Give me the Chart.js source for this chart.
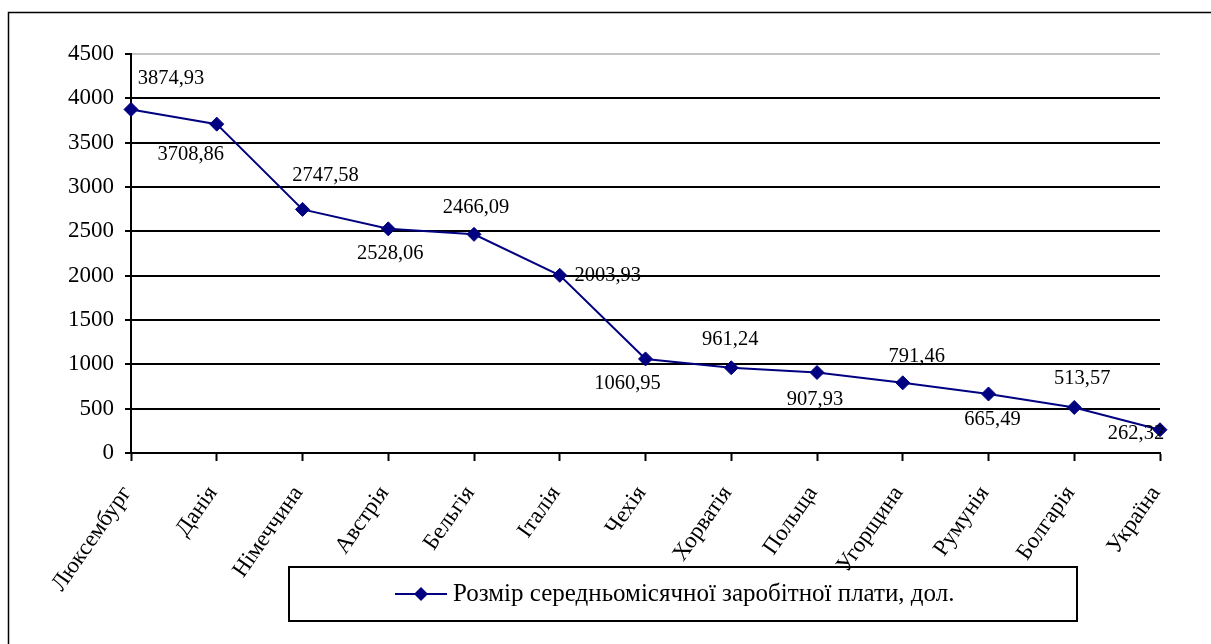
<!DOCTYPE html>
<html>
<head>
<meta charset="utf-8">
<script src="https://cdn.jsdelivr.net/npm/chart.js@4.4.1/dist/chart.umd.min.js"></script>
<style>
  html, body { margin: 0; padding: 0; background: #fff; }
  #wrap { position: relative; width: 1211px; height: 644px; }
</style>
</head>
<body>
<div id="wrap"><canvas id="c" width="1211" height="644"></canvas></div>
<script>
// Average monthly wage by country, USD
const countries = ['Люксембург', 'Данія', 'Німеччина', 'Австрія', 'Бельгія', 'Італія', 'Чехія',
                   'Хорватія', 'Польща', 'Угорщина', 'Румунія', 'Болгарія', 'Україна'];
const wages = [3874.93, 3708.86, 2747.58, 2528.06, 2466.09, 2003.93, 1060.95,
               961.24, 907.93, 791.46, 665.49, 513.57, 262.32];
const yMin = 0;
const yMax = 4500;
const yStep = 500;
const seriesName = 'Розмір середньомісячної заробітної плати, дол.';

const SERIF = '"Liberation Serif", "Times New Roman", Times, serif';
const NAVY = '#000080';

// where each value label sits relative to its point (dx, dy in px)
const labelShift = [[40, -31], [-26, 30], [23, -34], [2, 25], [2, -27], [48, 0], [-18, 25],
                    [-1, -28], [-2, 27], [14, -26], [4, 26], [8, -29], [-24, 4]];

const fmt = v => v.toFixed(2).replace('.', ',');

// thin frame along the top and left edges
const framePlugin = {
  id: 'frame',
  beforeDraw(chart) {
    const ctx = chart.ctx;
    ctx.save();
    ctx.fillStyle = '#fff';
    ctx.fillRect(0, 0, chart.width, chart.height);
    ctx.strokeStyle = '#000';
    ctx.lineWidth = 1.5;
    ctx.beginPath();
    ctx.moveTo(8.5, chart.height);
    ctx.lineTo(8.5, 12.5);
    ctx.lineTo(chart.width, 12.5);
    ctx.stroke();
    ctx.restore();
  }
};

// value labels next to each point
const valueLabels = {
  id: 'valueLabels',
  afterDatasetsDraw(chart) {
    const ctx = chart.ctx;
    const meta = chart.getDatasetMeta(0);
    const values = chart.data.datasets[0].data;
    ctx.save();
    ctx.font = '20.5px ' + SERIF;
    ctx.fillStyle = '#000';
    ctx.textAlign = 'center';
    ctx.textBaseline = 'middle';
    meta.data.forEach((pt, i) => {
      const [dx, dy] = labelShift[i];
      ctx.fillText(fmt(values[i]), pt.x + dx, pt.y + dy);
    });
    ctx.restore();
  }
};

// boxed legend under the axis labels
const boxedLegend = {
  id: 'boxedLegend',
  afterDraw(chart) {
    const ctx = chart.ctx;
    const ds = chart.data.datasets[0];
    const box = { x: 289, y: 567, w: 788, h: 54 };
    const cy = box.y + box.h / 2;
    ctx.save();
    ctx.strokeStyle = '#000';
    ctx.lineWidth = 2;
    ctx.strokeRect(box.x, box.y, box.w, box.h);
    ctx.strokeStyle = ds.borderColor;
    ctx.lineWidth = ds.borderWidth;
    ctx.beginPath();
    ctx.moveTo(395, cy);
    ctx.lineTo(447, cy);
    ctx.stroke();
    ctx.fillStyle = ds.pointBackgroundColor;
    ctx.beginPath();
    const r = ds.pointRadius;
    ctx.moveTo(421, cy - r);
    ctx.lineTo(421 + r, cy);
    ctx.lineTo(421, cy + r);
    ctx.lineTo(421 - r, cy);
    ctx.closePath();
    ctx.fill();
    ctx.fillStyle = '#000';
    ctx.font = '25px ' + SERIF;
    ctx.textAlign = 'left';
    ctx.textBaseline = 'middle';
    ctx.fillText(ds.label, 453, cy);
    ctx.restore();
  }
};

new Chart(document.getElementById('c'), {
  type: 'line',
  data: {
    labels: countries,
    datasets: [{
      label: seriesName,
      data: wages,
      borderColor: NAVY,
      borderWidth: 2,
      backgroundColor: NAVY,
      pointBackgroundColor: NAVY,
      pointBorderColor: NAVY,
      pointBorderWidth: 1,
      pointStyle: 'rectRot',
      pointRadius: 7,
      tension: 0,
      fill: false,
      clip: false
    }]
  },
  options: {
    responsive: false,
    animation: false,
    devicePixelRatio: 1,
    layout: { padding: { top: 54, left: 0, right: 51, bottom: 0 } },
    plugins: {
      legend: { display: false },
      tooltip: { enabled: false }
    },
    scales: {
      x: {
        type: 'category',
        offset: false,
        grid: { drawOnChartArea: false, drawTicks: true, tickLength: 8, tickColor: '#000', tickWidth: 2 },
        border: { color: '#000', width: 2 },
        ticks: {
          autoSkip: false,
          maxRotation: 55,
          minRotation: 55,
          padding: 20,
          labelOffset: -4,
          color: '#000',
          font: { size: 23, family: SERIF }
        },
        afterFit(scale) { scale.height = 191; }
      },
      y: {
        min: yMin,
        max: yMax,
        ticks: {
          stepSize: yStep,
          padding: 11,
          color: '#000',
          font: { size: 23, family: SERIF },
          callback: v => String(v)
        },
        grid: {
          color: c => (c.tick && c.tick.value === yMax) ? '#c4c4c4' : '#000',
          lineWidth: 2,
          tickLength: 6,
          tickColor: '#000',
          tickWidth: 2
        },
        border: { color: '#000', width: 2 },
        afterFit(scale) { scale.width = 131; }
      }
    }
  },
  plugins: [framePlugin, valueLabels, boxedLegend]
});
</script>
</body>
</html>
